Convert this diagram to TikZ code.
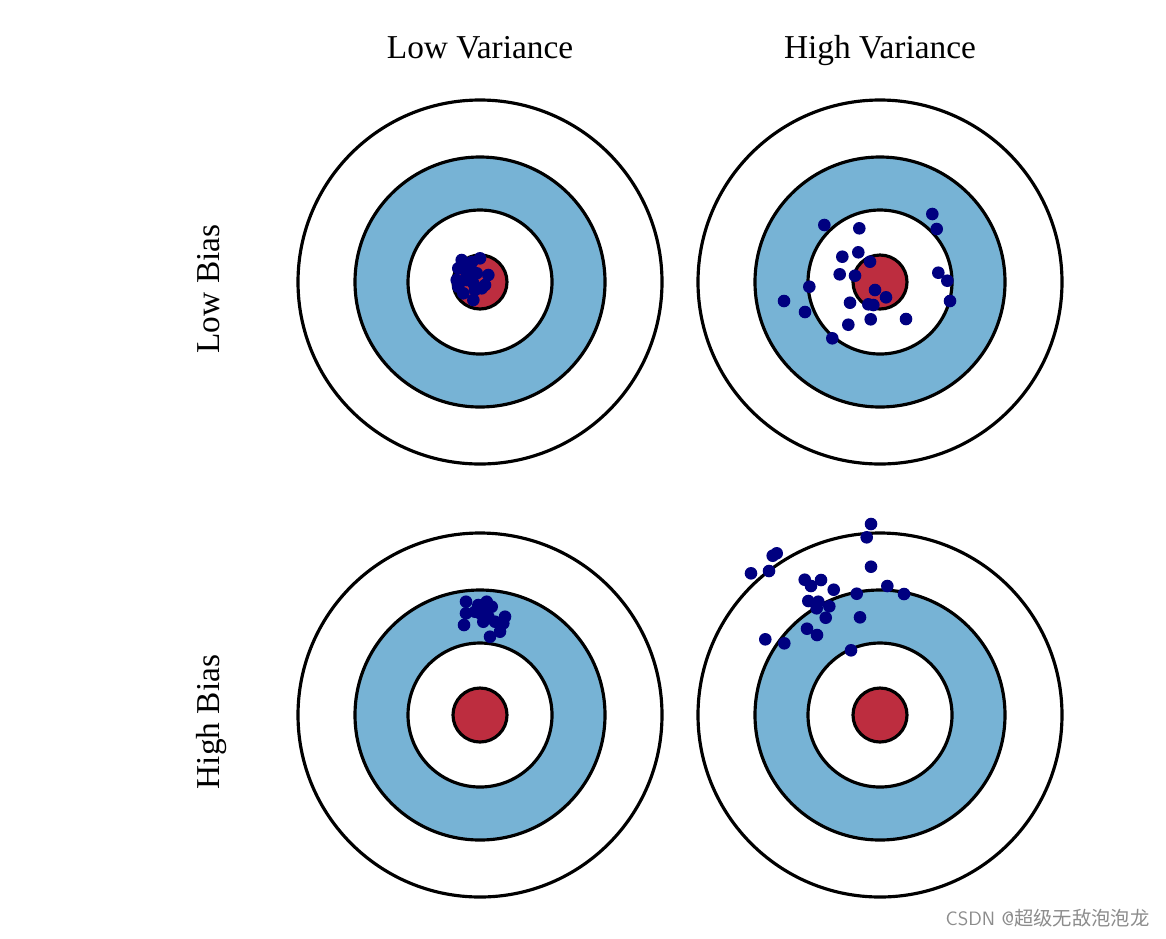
\documentclass[tikz,border=0pt]{standalone}
\usepackage{fontspec}
\setmainfont{Liberation Serif}
\newfontfamily\cjk{Noto Sans CJK SC}
\definecolor{ringblue}{RGB}{119,179,213}
\definecolor{bullred}{RGB}{189,45,63}
\definecolor{shotnavy}{RGB}{0,0,128}
\newcommand{\target}[1]{%
	\filldraw[fill=white] (#1) circle (182);
	\filldraw[fill=ringblue] (#1) circle (125);
	\filldraw[fill=white] (#1) circle (72);
	\filldraw[fill=bullred] (#1) circle (27);
}
\begin{document}
\begin{tikzpicture}[x=0.02cm, y=-0.02cm, line width=1.8pt, line join=round, line cap=round,
	head/.style={font=\fontsize{19}{21}\selectfont, anchor=base, inner sep=0pt},
	shot/.style={fill=shotnavy}]
			\useasboundingbox (0,0) rectangle (1166,938);
			\coordinate (LL) at (480,282);
			\coordinate (LH) at (880,282);
			\coordinate (HL) at (480,715);
			\coordinate (HH) at (880,715);
			\target{LL}
			\target{LH}
			\target{HL}
			\target{HH}
			% Nhãn
			\node[head] (lowvar) at (480,58) {Low Variance};
			\node[head] (highvar) at (880,58) {High Variance};
			\node[head, rotate=90] (lowbias) at (219,289) {Low Bias};
			\node[head, rotate=90] (highbias) at (219,722) {High Bias};
			% Điểm bắn
			\foreach \x/\y in {461.7/260, 480/258.3, 458.3/268.3, 470/266.7, 476.7/273.3, 488.3/275, 456.7/280, 466.7/280, 473.3/283.3, 485/285, 458.3/286.7, 463.3/293.3, 475/290, 473.3/300, 481.7/288.3, 466.7/273.3, 464/263, 472/262}
				\fill[shot] (\x,\y) circle (6.3);
			\foreach \x/\y in {824.3/225, 859.3/228.3, 932.3/214, 936.7/229, 842.3/256.7, 858.3/252.3, 870/261.7, 839.7/274.3, 855/275.7, 938.3/272.7, 947.3/280.7, 809.3/286.7, 784/301, 875/290, 886/297.3, 950/301, 850/302.7, 868.3/304.3, 873.3/305, 805/312, 906/319, 870.7/319.3, 848.3/324.7, 832.3/338.3}
				\fill[shot] (\x,\y) circle (6.3);
			\foreach \x/\y in {466/601.7, 466/613.3, 464/625, 478.3/605, 486.7/601.7, 491.7/606.7, 480/613.3, 488.3/616.7, 483.3/621.7, 495/621.7, 505/616.7, 503.3/623.3, 500/631.7, 490/636.7, 475/611.7, 484/608}
				\fill[shot] (\x,\y) circle (6.3);
			\foreach \x/\y in {871/524, 866.7/537.3, 776.7/553.3, 772.7/555.7, 751/573.3, 769/571, 871/566.7, 804.7/579.7, 811/586, 821/580, 833.7/589.7, 887.3/586, 904/594, 856.7/593.7, 808.3/601, 818.3/601.7, 829.3/606.3, 816.7/608.3, 825.7/617.7, 860/617.3, 807/628.7, 817/635, 765.3/639.3, 784.3/643.3, 851/650.3}
				\fill[shot] (\x,\y) circle (6.3);
			\node[anchor=east, text=black!45, font=\fontsize{11}{12}\selectfont, inner sep=0pt] (mark) at (1151,918) {\sffamily CSDN @\cjk 超级无敌泡泡龙};
		\end{tikzpicture}
\end{document}
